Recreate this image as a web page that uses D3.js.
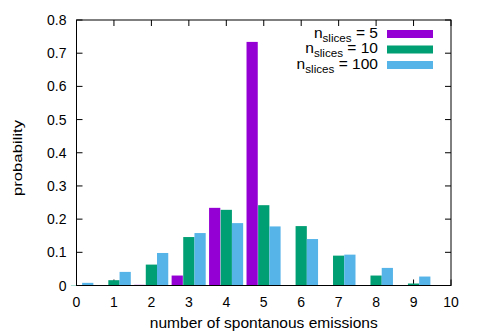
<!DOCTYPE html>
<html><head><meta charset="utf-8">
<script src="https://cdn.jsdelivr.net/npm/d3@7"></script>
<style>body{margin:0;background:#fff}svg{display:block}text{font-family:"Liberation Sans",Arial,sans-serif;fill:#000}</style>
</head><body><svg id="c" width="479" height="336"></svg>
<script>
const categories = [0,1,2,3,4,5,6,7,8,9];
const seriesNames = ["5","10","100"];
const seriesColors = ["#9400d3","#009e73","#56b4e9"];
const valuesN5   = [0, 0, 0.002, 0.030, 0.234, 0.734, 0, 0, 0, 0];
const valuesN10  = [0.001, 0.016, 0.063, 0.146, 0.228, 0.242, 0.179, 0.090, 0.030, 0.006];
const valuesN100 = [0.008, 0.041, 0.098, 0.158, 0.188, 0.178, 0.140, 0.093, 0.053, 0.027];
const xTicks = [0,1,2,3,4,5,6,7,8,9,10];
const yTicks = [0,0.1,0.2,0.3,0.4,0.5,0.6,0.7,0.8];
const series = [valuesN5, valuesN10, valuesN100];
const offsets = [-0.31, 0, 0.3];
const barW = 0.3;

const svg = d3.select("#c");
const L=76.5, R=451, T=20, B=285.5;
const x = d3.scaleLinear().domain([0,10]).range([L,R]);
const y = d3.scaleLinear().domain([0,0.8]).range([B,T]);
const tl = 6;

// inward ticks (drawn before bars)
const g = svg.append("g").attr("stroke","#000").attr("stroke-width",1);
xTicks.forEach(t=>{
  g.append("line").attr("x1",x(t)).attr("x2",x(t)).attr("y1",B).attr("y2",B-tl);
  g.append("line").attr("x1",x(t)).attr("x2",x(t)).attr("y1",T).attr("y2",T+tl);
});
yTicks.forEach(t=>{
  g.append("line").attr("x1",L).attr("x2",L+tl).attr("y1",y(t)).attr("y2",y(t));
  g.append("line").attr("x1",R).attr("x2",R-tl).attr("y1",y(t)).attr("y2",y(t));
});

// bars
series.forEach((vals,si)=>{
  svg.append("g").selectAll("rect").data(categories).join("rect")
    .attr("x",d=>x(d+offsets[si]-barW/2))
    .attr("width",d=>x(barW)-x(0))
    .attr("y",(d,i)=>y(vals[i]))
    .attr("height",(d,i)=>y(0)-y(vals[i]))
    .attr("fill",seriesColors[si]);
});

// border
svg.append("rect").attr("x",L).attr("y",T).attr("width",R-L).attr("height",B-T)
  .attr("fill","none").attr("stroke","#000").attr("stroke-width",1);

// tick labels
svg.append("g").selectAll("text").data(xTicks).join("text")
  .attr("x",d=>x(d)).attr("y",B+21).attr("text-anchor","middle")
  .style("font-size","14px").text(d=>d);
svg.append("g").selectAll("text").data(yTicks).join("text")
  .attr("x",L-10).attr("y",d=>y(d)+5).attr("text-anchor","end")
  .style("font-size","14px").text(d=>d===0?"0":d3.format(".1f")(d));

// axis labels (horizontally stretched like the reference rendering)
svg.append("g").attr("transform",`translate(${(L+R)/2},328) scale(1.11,1)`)
  .append("text").attr("text-anchor","middle").style("font-size","14px")
  .text("number of spontanous emissions");
svg.append("g").attr("transform","translate(22,158) rotate(-90) scale(1.24,1)")
  .append("text").attr("text-anchor","middle").style("font-size","13.5px")
  .text("probability");

// legend
const legY = [34, 49.5, 65];
seriesNames.forEach((n,i)=>{
  const t = svg.append("g").attr("transform",`translate(378,${legY[i]+3.5}) scale(1.11,1)`)
    .append("text").attr("text-anchor","end").style("font-size","14px");
  t.append("tspan").text("n");
  t.append("tspan").attr("dy",4).style("font-size","10.5px").text("slices");
  t.append("tspan").attr("dy",-4).text(" = "+n);
  svg.append("rect").attr("x",387).attr("y",legY[i]-4).attr("width",46).attr("height",8).attr("fill",seriesColors[i]);
});
</script></body></html>
